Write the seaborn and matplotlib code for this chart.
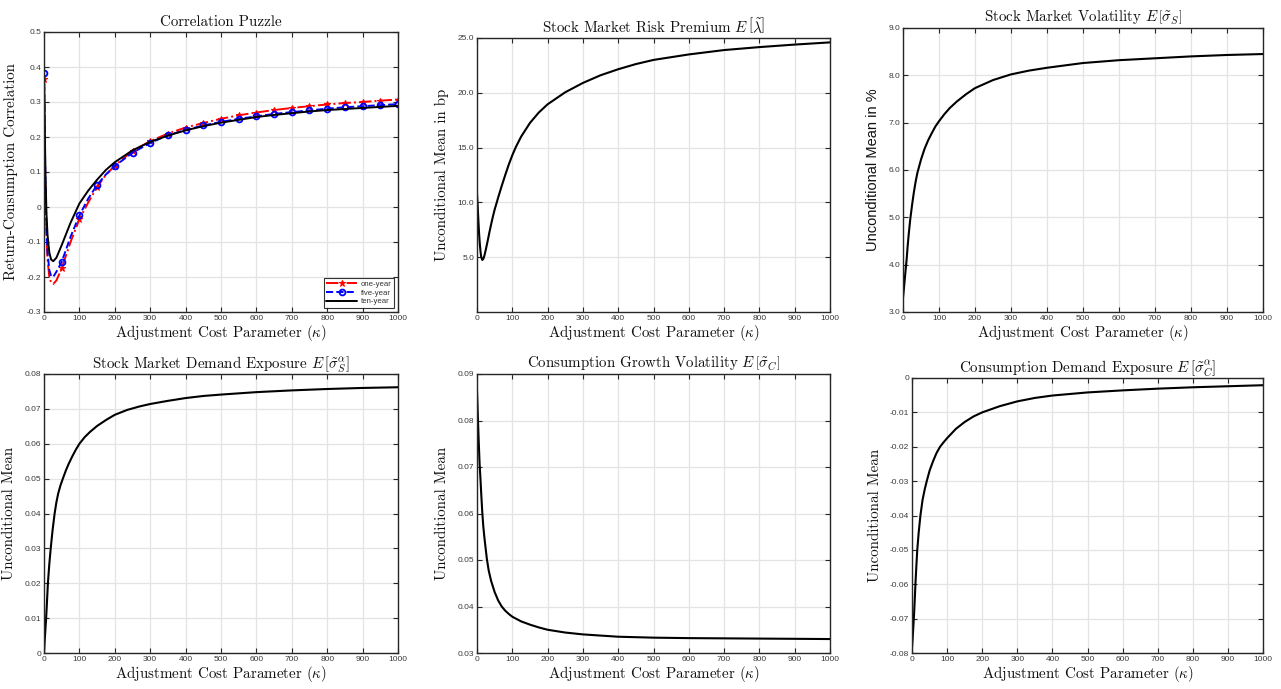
import numpy as np
import pandas as pd
import matplotlib
matplotlib.use("Agg")
import matplotlib.pyplot as plt
import seaborn as sns

# ---------------- data ----------------
kappa_corr = [0, 2, 4, 7, 10, 15, 20, 26, 35, 50, 75, 100, 125, 150, 175, 200, 250, 300,
              350, 400, 450, 500, 550, 600, 650, 700, 750, 800, 850, 900, 950, 1000]
corr_one = [0.365, 0.20, 0.05, -0.08, -0.15, -0.20, -0.215, -0.22, -0.21, -0.175, -0.10, -0.035,
            0.013, 0.057, 0.092, 0.118, 0.160, 0.188, 0.210, 0.227, 0.240, 0.252, 0.262, 0.270,
            0.277, 0.283, 0.288, 0.293, 0.297, 0.300, 0.304, 0.307]
corr_five = [0.382, 0.22, 0.07, -0.06, -0.13, -0.18, -0.197, -0.20, -0.185, -0.157, -0.085, -0.024,
             0.024, 0.063, 0.093, 0.117, 0.155, 0.183, 0.205, 0.220, 0.233, 0.243, 0.252, 0.259,
             0.266, 0.271, 0.276, 0.281, 0.285, 0.288, 0.291, 0.294]
corr_ten = [0.40, 0.25, 0.10, -0.02, -0.08, -0.13, -0.150, -0.155, -0.145, -0.109, -0.045, 0.010,
            0.047, 0.078, 0.106, 0.128, 0.162, 0.186, 0.204, 0.219, 0.231, 0.241, 0.249, 0.257,
            0.263, 0.268, 0.273, 0.277, 0.280, 0.283, 0.286, 0.289]

kappa_rp = [0, 2, 4, 6, 8, 10, 12, 15, 18, 21, 25, 30, 35, 40, 45, 50, 56, 60, 70, 80, 90, 100,
            110, 125, 150, 175, 200, 250, 300, 350, 400, 450, 500, 600, 700, 800, 900, 1000]
risk_premium = [10.8, 9.6, 8.3, 7.1, 6.2, 5.5, 5.0, 4.75, 4.85, 5.15, 5.7, 6.45, 7.25, 8.0, 8.7,
                9.35, 10.0, 10.45, 11.5, 12.5, 13.45, 14.3, 15.05, 16.0, 17.25, 18.2, 18.95, 20.05,
                20.9, 21.6, 22.15, 22.62, 23.0, 23.5, 23.9, 24.17, 24.4, 24.6]

kappa_vol = [0, 2, 5, 8, 10, 13, 16, 20, 25, 30, 35, 40, 45, 50, 60, 70, 80, 90, 100, 115, 130,
             150, 175, 200, 250, 300, 350, 400, 450, 500, 600, 700, 800, 900, 1000]
stock_vol = [3.30, 3.45, 3.70, 3.95, 4.10, 4.40, 4.65, 4.95, 5.25, 5.52, 5.75, 5.94, 6.08, 6.22,
             6.45, 6.63, 6.78, 6.92, 7.03, 7.18, 7.31, 7.45, 7.60, 7.73, 7.90, 8.02, 8.10, 8.16,
             8.21, 8.26, 8.32, 8.36, 8.40, 8.43, 8.45]

kappa_sdx = [0, 2, 4, 6, 8, 11, 15, 19, 24, 30, 35, 40, 47, 54, 62, 70, 80, 90, 100, 115, 130,
             150, 175, 200, 235, 270, 300, 350, 400, 450, 500, 600, 700, 800, 900, 1000]
stock_demand = [0.0, 0.0035, 0.0068, 0.010, 0.0138, 0.020, 0.0255, 0.030, 0.0350, 0.040, 0.0432,
                0.0457, 0.0482, 0.0502, 0.0524, 0.0543, 0.0564, 0.0583, 0.0600, 0.0619, 0.0634,
                0.0651, 0.0668, 0.0683, 0.0697, 0.0707, 0.0714, 0.0723, 0.0731, 0.0737, 0.0741,
                0.0748, 0.0753, 0.0757, 0.0760, 0.0762]

kappa_cv = [0, 1.5, 3, 5, 7.5, 10, 12, 15, 18, 21, 24, 28, 33, 40, 50, 60, 70, 80, 90, 100, 125,
            150, 175, 200, 250, 300, 400, 500, 600, 800, 1000]
cons_vol = [0.0864, 0.0830, 0.0795, 0.0752, 0.0705, 0.0672, 0.0642, 0.0602, 0.0571, 0.0548,
            0.0528, 0.0502, 0.0478, 0.0455, 0.0431, 0.0413, 0.0400, 0.0391, 0.0384, 0.0378,
            0.0368, 0.0361, 0.0355, 0.0350, 0.0344, 0.0340, 0.0335, 0.0333, 0.0332, 0.0331,
            0.0330]

kappa_cdx = [0, 2, 4, 6, 8, 10, 12, 15, 19, 24, 30, 36, 42, 50, 60, 70, 80, 90, 100, 125, 150,
             175, 200, 250, 300, 350, 400, 500, 600, 700, 800, 900, 1000]
cons_demand = [-0.0786, -0.0755, -0.072, -0.0685, -0.064, -0.0595, -0.0555, -0.050, -0.045,
               -0.040, -0.0355, -0.0325, -0.030, -0.027, -0.0242, -0.0218, -0.020, -0.0187,
               -0.0175, -0.0148, -0.0128, -0.0112, -0.0100, -0.0082, -0.0068, -0.0058, -0.0051,
               -0.0042, -0.0036, -0.0031, -0.0027, -0.0024, -0.0021]

x_ticks = [0, 100, 200, 300, 400, 500, 600, 700, 800, 900, 1000]

# ---------------- style ----------------
sns.set_theme(style="whitegrid")
plt.rcParams["font.family"] = ["Liberation Sans", "DejaVu Sans"]
plt.rcParams["mathtext.fontset"] = "cm"
SERIF = ["cmr10", "DejaVu Serif"]
DARK = "#262626"

W, H = 1281, 689
fig = plt.figure(figsize=(W / 100, H / 100), dpi=100)
fig.patch.set_facecolor("white")


def make_ax(left, top, right, bottom):
    return fig.add_axes([left / W, (H - bottom) / H, (right - left) / W, (bottom - top) / H])


def style(ax, title, ylabel, yticks, ylabels, ylim, ylabel_sans=False):
    ax.set_facecolor("white")
    ax.set_xlim(0, 1000)
    ax.set_ylim(*ylim)
    ax.set_xticks(x_ticks)
    ax.set_xticklabels([str(t) for t in x_ticks])
    ax.set_yticks(yticks)
    ax.set_yticklabels(ylabels)
    ax.grid(True, color="#e3e3e3", linewidth=0.9)
    ax.tick_params(axis="both", direction="in", length=3.5, width=0.8, colors=DARK,
                   labelsize=6.0, pad=2, top=True, right=True, bottom=True, left=True)
    for lab in ax.get_xticklabels() + ax.get_yticklabels():
        lab.set_color("#3a3a3a")
    for sp in ax.spines.values():
        sp.set_visible(True)
        sp.set_color(DARK)
        sp.set_linewidth(1.0)
    ax.set_title(title, family=SERIF, fontsize=10.8, color="#111111", pad=4)
    ax.set_xlabel(r"Adjustment Cost Parameter $(\kappa)$", family=SERIF, fontsize=10.8,
                  color="#111111", labelpad=1)
    if ylabel_sans:
        ax.set_ylabel(ylabel, family=["Liberation Sans", "DejaVu Sans"], fontsize=10.5,
                      color="#111111", labelpad=6)
    else:
        ax.set_ylabel(ylabel, family=SERIF, fontsize=10.8, color="#111111", labelpad=6)


# ---------------- panel 1: correlation puzzle ----------------
ax1 = make_ax(44, 32, 398, 312)
mark_idx = [i for i, v in enumerate(kappa_corr) if v % 50 == 0]
df1 = pd.DataFrame({"kappa": kappa_corr, "one": corr_one, "five": corr_five, "ten": corr_ten})
sns.lineplot(data=df1, x="kappa", y="one", ax=ax1, color="red", linestyle="-.", linewidth=1.4,
             marker="*", markersize=5, markevery=mark_idx, markeredgecolor="red",
             label="one-year", sort=False)
sns.lineplot(data=df1, x="kappa", y="five", ax=ax1, color="blue", linestyle="--", linewidth=1.4,
             marker="o", markersize=4.2, markevery=mark_idx, markerfacecolor="none",
             markeredgecolor="blue", markeredgewidth=1.3, label="five-year", sort=False)
sns.lineplot(data=df1, x="kappa", y="ten", ax=ax1, color="black", linestyle="-", linewidth=1.4,
             label="ten-year", sort=False)
style(ax1, "Correlation Puzzle", "Return-Consumption Correlation",
      [0.5, 0.4, 0.3, 0.2, 0.1, 0, -0.1, -0.2, -0.3],
      ["0.5", "0.4", "0.3", "0.2", "0.1", "0", "-0.1", "-0.2", "-0.3"], (-0.3, 0.5))
leg = ax1.legend(loc="lower right", fontsize=5.6, frameon=True, fancybox=False,
                 edgecolor="black", borderpad=0.3, labelspacing=0.15, handlelength=4.0,
                 handletextpad=0.4, borderaxespad=0.55)
leg.get_frame().set_linewidth(0.8)
for t in leg.get_texts():
    t.set_color("#333333")

# ---------------- panel 2: risk premium ----------------
ax2 = make_ax(477, 38, 830, 312)
sns.lineplot(x=kappa_rp, y=risk_premium, ax=ax2, color="black", linewidth=1.5)
style(ax2, r"Stock Market Risk Premium $E\,\left[\tilde{\lambda}\right]$", "Unconditional Mean in bp",
      [5, 10, 15, 20, 25], ["5.0", "10.0", "15.0", "20.0", "25.0"], (0, 25))

# ---------------- panel 3: stock market volatility ----------------
ax3 = make_ax(903, 28, 1263, 312)
sns.lineplot(x=kappa_vol, y=stock_vol, ax=ax3, color="black", linewidth=1.5)
style(ax3, r"Stock Market Volatility $E\,\left[\tilde{\sigma}_S\right]$", "Unconditional Mean in %",
      [3, 4, 5, 6, 7, 8, 9], ["3.0", "4.0", "5.0", "6.0", "7.0", "8.0", "9.0"], (3, 9),
      ylabel_sans=True)

# ---------------- panel 4: stock market demand exposure ----------------
ax4 = make_ax(44, 374, 398, 653)
sns.lineplot(x=kappa_sdx, y=stock_demand, ax=ax4, color="black", linewidth=1.5)
style(ax4, r"Stock Market Demand Exposure $E\,\left[\tilde{\sigma}_S^{\alpha}\right]$",
      "Unconditional Mean",
      [0, 0.01, 0.02, 0.03, 0.04, 0.05, 0.06, 0.07, 0.08],
      ["0", "0.01", "0.02", "0.03", "0.04", "0.05", "0.06", "0.07", "0.08"], (0, 0.08))

# ---------------- panel 5: consumption growth volatility ----------------
ax5 = make_ax(477, 374, 830, 653)
sns.lineplot(x=kappa_cv, y=cons_vol, ax=ax5, color="black", linewidth=1.5)
style(ax5, r"Consumption Growth Volatility $E\,\left[\tilde{\sigma}_C\right]$", "Unconditional Mean",
      [0.03, 0.04, 0.05, 0.06, 0.07, 0.08, 0.09],
      ["0.03", "0.04", "0.05", "0.06", "0.07", "0.08", "0.09"], (0.03, 0.09))

# ---------------- panel 6: consumption demand exposure ----------------
ax6 = make_ax(912, 378, 1263, 653)
sns.lineplot(x=kappa_cdx, y=cons_demand, ax=ax6, color="black", linewidth=1.5)
style(ax6, r"Consumption Demand Exposure $E\,\left[\tilde{\sigma}_C^{\alpha}\right]$",
      "Unconditional Mean",
      [0, -0.01, -0.02, -0.03, -0.04, -0.05, -0.06, -0.07, -0.08],
      ["0", "-0.01", "-0.02", "-0.03", "-0.04", "-0.05", "-0.06", "-0.07", "-0.08"], (-0.08, 0))

fig.savefig("out.png", dpi=100, facecolor="white")
